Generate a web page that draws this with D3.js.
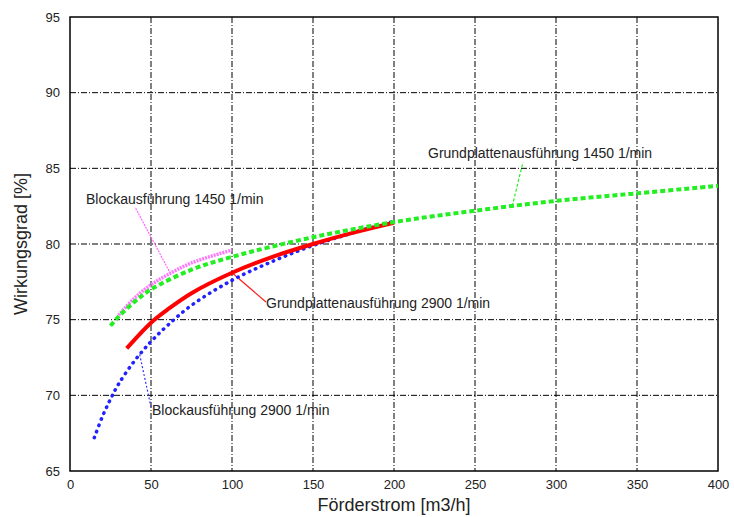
<!DOCTYPE html>
<html>
<head>
<script src="https://cdn.jsdelivr.net/npm/d3@7"></script>
<style>
body { margin: 0; background: #fff; }
text { font-family: "Liberation Sans", Arial, sans-serif; fill: #222; }
</style>
</head>
<body>
<script>
// data
var xTicks = [0, 50, 100, 150, 200, 250, 300, 350, 400];
var yTicks = [65, 70, 75, 80, 85, 90, 95];

var grund1450 = [[25,74.6],[30,75.2],[40,76.2],[50,77.0],[75,78.3],[100,79.15],[150,80.45],[200,81.45],[250,82.2],[300,82.85],[350,83.35],[400,83.85]];
var block1450 = [[30,75.3],[40,76.45],[50,77.3],[60,77.95],[75,78.75],[100,79.6]];
var grund2900 = [[35,73.1],[50,74.8],[60,75.65],[75,76.75],[100,78.1],[125,79.15],[150,80.0],[175,80.75],[200,81.4]];
var block2900 = [[15,67.2],[20,68.6],[25,69.75],[30,70.75],[40,72.3],[50,73.55],[60,74.6],[75,75.95],[100,77.6],[125,78.85],[150,79.9],[175,80.75],[200,81.5]];

// label: text, anchor point on curve (data), text position (px)
var labels = [
  {text: "Blockausführung 1450 1/min", at: [62, 78.05], tx: 86, ty: 204, lx: 135, ly: 207, color: "#ff66ff", dash: "2,1"},
  {text: "Grundplattenausführung 2900 1/min", at: [100, 78.1], tx: 266, ty: 308, lx: 266, ly: 302, color: "#ff2020", dash: null},
  {text: "Blockausführung 2900 1/min", at: [43, 72.7], tx: 152, ty: 415, lx: 151, ly: 407, color: "#3333ff", dash: "2,2"},
  {text: "Grundplattenausführung 1450 1/min", at: [273, 82.5], tx: 428, ty: 158, lx: 523, ly: 162, color: "#22ee22", dash: "3,2"}
];

var width = 734, height = 517;
var pLeft = 70, pRight = 718, pTop = 17, pBottom = 471;

var svg = d3.select("body").append("svg")
  .attr("width", width)
  .attr("height", height);

var x = d3.scaleLinear().domain([0, 400]).range([pLeft, pRight]);
var y = d3.scaleLinear().domain([65, 95]).range([pBottom, pTop]);

// grid
svg.append("g").selectAll("line").data(xTicks.slice(1, -1)).enter().append("line")
  .attr("x1", d => x(d)).attr("x2", d => x(d))
  .attr("y1", pTop).attr("y2", pBottom)
  .attr("stroke", "#000").attr("stroke-width", 1)
  .attr("stroke-dasharray", "6,2,1,2");
svg.append("g").selectAll("line").data(yTicks.slice(1, -1)).enter().append("line")
  .attr("y1", d => y(d)).attr("y2", d => y(d))
  .attr("x1", pLeft).attr("x2", pRight)
  .attr("stroke", "#000").attr("stroke-width", 1)
  .attr("stroke-dasharray", "6,2,1,2");

// frame
svg.append("rect")
  .attr("x", pLeft).attr("y", pTop)
  .attr("width", pRight - pLeft).attr("height", pBottom - pTop)
  .attr("fill", "none").attr("stroke", "#000").attr("stroke-width", 1.5);

// axes
var xAxis = svg.append("g").attr("transform", "translate(0," + pBottom + ")")
  .call(d3.axisBottom(x).tickValues(xTicks).tickSize(0).tickPadding(9));
var yAxis = svg.append("g").attr("transform", "translate(" + pLeft + ",0)")
  .call(d3.axisLeft(y).tickValues(yTicks).tickSize(0).tickPadding(10));
[xAxis, yAxis].forEach(function(a) {
  a.select(".domain").remove();
  a.selectAll("text").attr("font-size", 13).attr("fill", "#222")
    .attr("font-family", "Liberation Sans, Arial, sans-serif");
});

svg.append("text").attr("x", 394).attr("y", 511)
  .attr("text-anchor", "middle").attr("font-size", 18)
  .text("Förderstrom [m3/h]");
svg.append("text")
  .attr("transform", "translate(27," + ((pTop + pBottom) / 2) + ") rotate(-90)")
  .attr("text-anchor", "middle").attr("font-size", 18)
  .text("Wirkungsgrad [%]");

var line = d3.line().x(d => x(d[0])).y(d => y(d[1])).curve(d3.curveCatmullRom);

// leader lines
labels.forEach(function(l) {
  svg.append("line")
    .attr("x1", x(l.at[0])).attr("y1", y(l.at[1]))
    .attr("x2", l.lx).attr("y2", l.ly)
    .attr("stroke", l.color).attr("stroke-width", 1.2)
    .attr("stroke-dasharray", l.dash);
});

// curves
svg.append("path").datum(block2900).attr("d", line)
  .attr("fill", "none").attr("stroke", "#2222ff").attr("stroke-width", 3.5)
  .attr("stroke-linecap", "round").attr("stroke-dasharray", "0.5,6");
svg.append("path").datum(grund2900).attr("d", line)
  .attr("fill", "none").attr("stroke", "#ff0000").attr("stroke-width", 4);
svg.append("path").datum(block1450).attr("d", line)
  .attr("fill", "none").attr("stroke", "#ff77ff").attr("stroke-width", 3.5)
  .attr("stroke-dasharray", "2,1");
svg.append("path").datum(grund1450).attr("d", line)
  .attr("fill", "none").attr("stroke", "#22ee22").attr("stroke-width", 4)
  .attr("stroke-dasharray", "5,3");

// label text
labels.forEach(function(l) {
  svg.append("text").attr("x", l.tx).attr("y", l.ty)
    .attr("font-size", 14).text(l.text);
});
</script>
</body>
</html>
